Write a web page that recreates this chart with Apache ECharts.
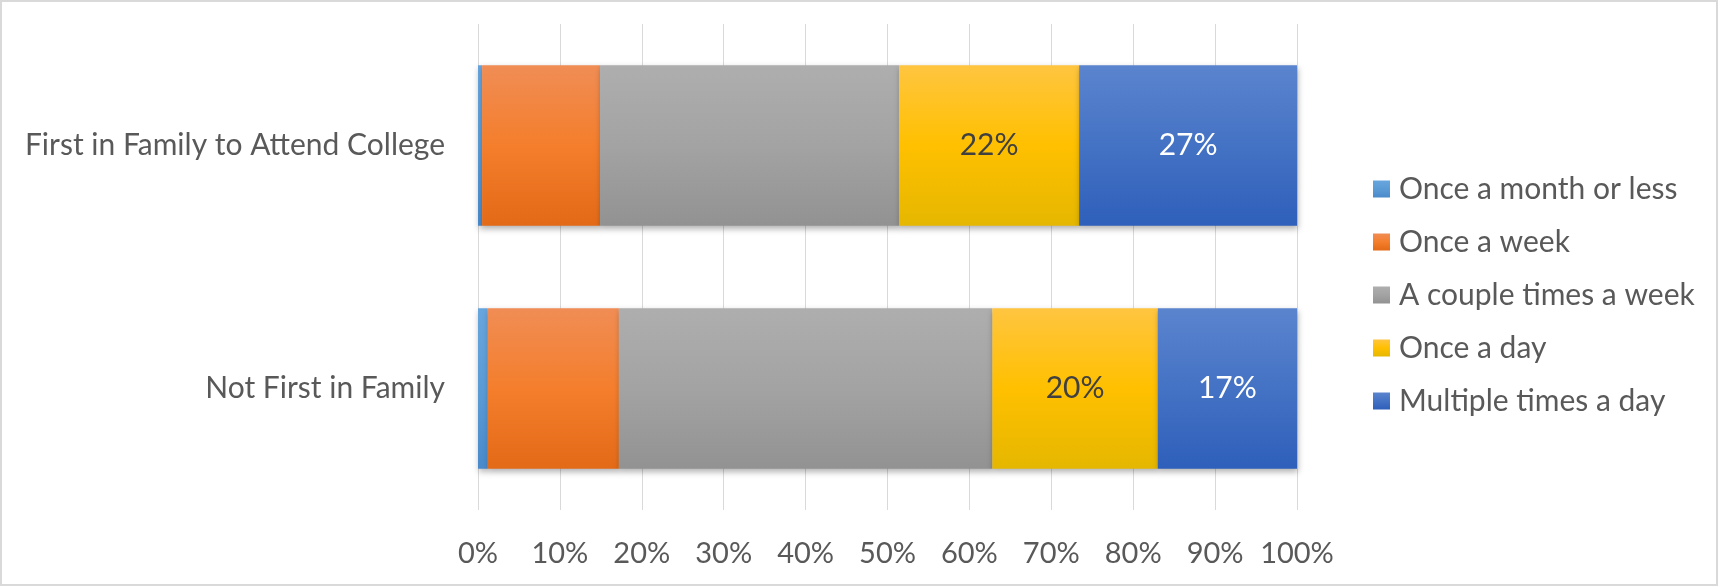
<!DOCTYPE html>
<html>
<head>
<meta charset="utf-8">
<title>Frequency by First-Generation Status</title>
<script src="https://cdn.jsdelivr.net/npm/echarts@6/dist/echarts.min.js"></script>
<style>
    html, body { margin: 0; padding: 0; background: #ffffff; }
    #chart { width: 1720px; height: 587px; }
</style>
</head>
<body>
<div id="chart"></div>
<script>
// Chart data (percent of each group)
const categories = ['First in Family to Attend College', 'Not First in Family'];
const seriesNames = ['Once a month or less', 'Once a week', 'A couple times a week', 'Once a day', 'Multiple times a day'];
const monthOrLess = [0.5, 1.2];
const onceWeek = [14.4, 16.0];
const coupleWeek = [36.5, 45.6];
const onceDay = [22.0, 20.2];
const multipleDay = [26.6, 17.0];
const xTicks = [0, 10, 20, 30, 40, 50, 60, 70, 80, 90, 100];

document.addEventListener('DOMContentLoaded', function () {
    const chart = echarts.init(document.getElementById('chart'));
    const font = 'Lato, "Open Sans", sans-serif';

    function grad(top, mid, bottom) {
        return new echarts.graphic.LinearGradient(0, 0, 0, 1, [
            { offset: 0, color: top },
            { offset: 0.5, color: mid },
            { offset: 1, color: bottom }
        ]);
    }

    const fills = [
        grad('#67A5DE', '#5B9BD5', '#4A8ACB'),
        grad('#F08D55', '#F47E2C', '#E36A17'),
        grad('#AEAEAE', '#A3A3A3', '#929292'),
        grad('#FFC540', '#FFC000', '#E5B700'),
        grad('#5B84CE', '#4472C4', '#2E5FBA')
    ];
    const values = [monthOrLess, onceWeek, coupleWeek, onceDay, multipleDay];
    // only the last two segments carry labels in the original
    const labelColors = [null, null, null, '#404040', '#ffffff'];

    const series = seriesNames.map(function (name, i) {
        return {
            name: name,
            type: 'bar',
            stack: 'total',
            barCategoryGap: '34%',
            data: values[i],
            itemStyle: {
                color: fills[i],
                shadowBlur: 6,
                shadowOffsetY: 3,
                shadowOffsetX: 1,
                shadowColor: 'rgba(0,0,0,0.3)'
            },
            label: {
                show: labelColors[i] !== null,
                position: 'inside',
                color: labelColors[i] || '#404040',
                fontFamily: font,
                fontSize: 30,
                formatter: function (p) { return Math.round(p.value) + '%'; }
            }
        };
    });

    const option = {
        animation: false,
        textStyle: { fontFamily: font },
        graphic: [{
            type: 'rect',
            shape: { x: 1, y: 1, width: 1716, height: 584 },
            style: { fill: 'none', stroke: '#d9d9d9', lineWidth: 2 },
            silent: true
        }],
        grid: { left: 478, right: 423, top: 24, bottom: 77 },
        legend: {
            orient: 'vertical',
            left: 1368,
            top: 169,
            itemWidth: 17,
            itemHeight: 17,
            itemGap: 23,
            icon: 'rect',
            data: seriesNames,
            textStyle: {
                color: '#595959',
                fontSize: 30,
                lineHeight: 30,
                padding: [0, 0, 0, 4],
                fontFamily: font
            }
        },
        xAxis: {
            type: 'value',
            min: xTicks[0],
            max: xTicks[xTicks.length - 1],
            interval: xTicks[1] - xTicks[0],
            axisLine: { show: false },
            axisTick: { show: false },
            splitLine: { show: true, lineStyle: { color: '#d9d9d9', width: 1 } },
            axisLabel: {
                color: '#595959',
                fontSize: 29,
                margin: 29,
                fontFamily: font,
                formatter: '{value}%'
            }
        },
        yAxis: {
            type: 'category',
            inverse: true,
            data: categories,
            axisLine: { show: false },
            axisTick: { show: false },
            axisLabel: {
                color: '#595959',
                fontSize: 30,
                margin: 33,
                fontFamily: font
            }
        },
        series: series
    };

    chart.setOption(option);
});
</script>
</body>
</html>
